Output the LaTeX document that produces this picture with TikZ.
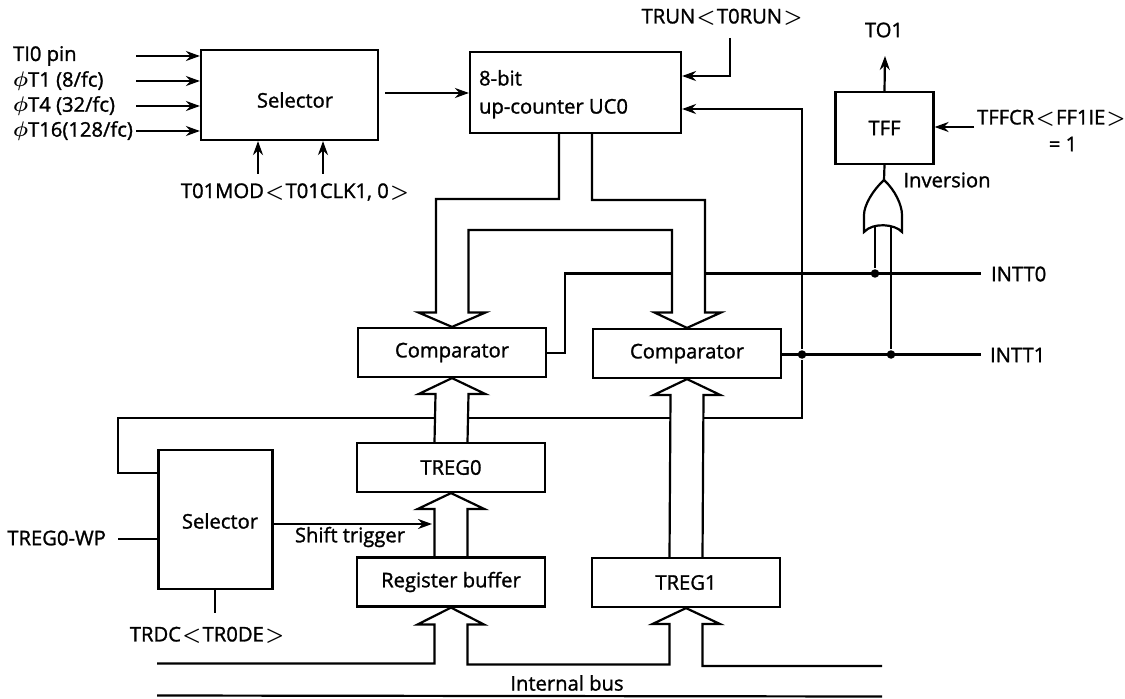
\documentclass[tikz,border=0pt]{standalone}
\usepackage{fontspec}
\setmainfont{Open Sans}[UprightFeatures={FakeBold=1.3}]
\usetikzlibrary{arrows.meta,positioning,calc}
% one unit is one pixel of the reference, y runs downwards
\newcommand{\busup}[2]{\draw[bus] ($(#1.north)+(-16.5,0)$) -- ($(#2.south)+(-16.5,16)$) -- ++(-17,0) -- (#2.south) -- ++(33.5,16) -- ++(-17,0) -- ($(#1.north)+(16.5,0)$);}
\newcommand{\angl}{\kern0.8pt{\boldmath$<$}\kern0.8pt}
\newcommand{\angr}{\kern0.8pt{\boldmath$>$}}

\begin{document}
\begin{tikzpicture}[x=0.02cm,y=-0.02cm,>={Stealth[length=2.8mm,width=2mm]},font=\fontsize{11.5}{13}\selectfont,line width=1.25pt,
 box/.style={draw,rectangle,inner sep=0pt},
 cmp/.style={box,minimum width=3.76cm,minimum height=0.98cm},
 bus/.style={line join=miter},
 dot/.style={circle,fill,inner sep=0pt,minimum size=0.17cm},
 lbl/.style={inner sep=0pt}]
\useasboundingbox (0,0) rectangle (1125,699);
% boxes
\node[box,minimum width=3.54cm,minimum height=1.8cm] (sel) at (289.5,95) {};
\node[lbl] at (295,100) {Selector};
\node[box,minimum width=4.22cm,minimum height=1.62cm] (uc) at (575.5,92.5) {};
\node[lbl,align=left,anchor=north west,font=\fontsize{11.5}{16}\selectfont] at (478,69) {8-bit\\[0pt]up-counter UC0};
\node[box,minimum width=1.96cm,minimum height=1.44cm] (tff) at (884.5,128) {TFF};
\node[cmp] (cmp0) at (452,352.5) {Comparator};
\node[cmp] (cmp1) at (687,353.5) {Comparator};
\node[cmp] (treg0) at (451,467.5) {TREG0};
\node[cmp] (rbuf) at (451,582) {Register buffer};
\node[cmp] (treg1) at (686,582.5) {TREG1};
\node[box,minimum width=2.28cm,minimum height=2.78cm] (sel2) at (215.5,519.5) {};
\node[lbl] at (220,521) {Selector};
% input labels
\node[lbl,anchor=west] (ti0) at (12,56) {TI0 pin};
\node[lbl,anchor=west] (t1) at (12,81) {{\boldmath$\phi$}T1 (8/fc)};
\node[lbl,anchor=west] (t4) at (12,106) {{\boldmath$\phi$}T4 (32/fc)};
\node[lbl,anchor=west] (t16) at (12,131) {{\boldmath$\phi$}T16(128/fc)};
\coordinate (i0) at (136,56); \coordinate (i1) at (136,81); \coordinate (i2) at (136,106); \coordinate (i3) at (136,131);
\draw[->] (i0) -- (i0 -| sel.west);
\draw[->] (i1) -- (i1 -| sel.west);
\draw[->] (i2) -- (i2 -| sel.west);
\draw[->] (i3) -- (i3 -| sel.west);
\node[lbl] (mod) at (295,192) {T01MOD\angl T01CLK1, 0\angr};
\coordinate (m0) at (258,174); \coordinate (m1) at (323,174);
\draw[->] (m0) -- (m0 |- sel.south);
\draw[->] (m1) -- (m1 |- sel.south);
\draw[->] (sel.east |- 0,93) ++(6,0) -- (uc.west |- 0,93);
% run control
\node[lbl] (run) at (722,17) {TRUN\angl T0RUN\angr};
\coordinate (r0) at (730,38);
\draw[->] (r0) |- (uc.east |- 0,76);
% output flip-flop
\node[lbl] (to1) at (884,30) {TO1};
\coordinate (t0) at (885,56);
\draw[->] (tff.north) -- (t0);
\node[lbl,anchor=west] (ffcr) at (976,118) {TFFCR\angl FF1IE\angr};
\node[lbl] (one) at (1063,144) {= 1};
\coordinate (f0) at (974,127);
\draw[->] (f0) -- (tff.east |- f0);
\node[lbl] (inv) at (947,180) {Inversion};
% or gate
\coordinate (gt) at (884,180);
\draw (tff.south) -- (gt);
\draw[line join=miter] (gt) .. controls (895,190) and (902,205) .. (902,215) -- (902,232)
 .. controls (895,224) and (873,222) .. (864,232) -- (864,215) .. controls (864,205) and (873,190) .. (gt) -- cycle;
% interrupts
\node[lbl,anchor=west] (int0) at (990,274) {INTT0};
\node[lbl,anchor=west] (int1) at (989,355) {INTT1};
\node[dot] (j0) at (875,273.5) {};
\node[dot] (j1) at (802,354.5) {};
\node[dot] (j2) at (891,354.5) {};
\coordinate (e0) at (981,273.5); \coordinate (e1) at (981,354.5);
\coordinate (g0) at (875,226); \coordinate (g1) at (891,226);
\draw (j0) -- (g0);
\draw (g1) -- (j2);
\draw (cmp1.east |- j1) -- (e1);
\draw (cmp0.east |- 0,353) -| (565,273.5) -- (672,273.5);
\draw (705,273.5) -- (e0);
% feedback
\draw[->] (j1) |- (uc.east |- 0,109);
\draw (j1) -- (802,418) -- (704,418);
\draw (671,418) -- (469,418);
\draw (435,418) -- (118,418) |- (sel2.west |- 0,473);
% buses
\draw[bus] ($(uc.south)+(-16.5,0)$) |- (436,199) |- (418.5,312.5) -- (cmp0.north) -- (485.5,312.5) -- (468.5,312.5) |- (672,230) |- (654.5,312.5) -- (cmp1.north) -- (721,312.5) -- (705,312.5) |- ($(uc.south)+(16.5,199-133)$) -- ($(uc.south)+(16.5,0)$);
\busup{treg0}{cmp0}
\busup{rbuf}{treg0}
\busup{treg1}{cmp1}
\coordinate (b0) at (157,663.5); \coordinate (b1) at (882,666); \coordinate (b2) at (157,695.5); \coordinate (b3) at (882,696.5);
\draw[bus] (b0) -| (434.5,624.5) -- (417.5,624.5) -- (rbuf.south) -- (484,624.5) -- (467.5,624.5) |- (669.5,664.5) |- (652.5,624) -- (treg1.south) -- (720,624) -- (702.5,624) |- (b1);
\draw (b2) -- (b3);
\node[lbl] (ibus) at (567,683) {Internal bus};
% lower selector
\node[lbl,anchor=east] (wp) at (107,538) {TREG0-WP};
\coordinate (w0) at (118,539);
\draw (w0) -- (sel2.west |- w0);
\draw[->] (sel2.east |- 0,524) -- (432,524);
\node[lbl] (shift) at (350,537) {Shift trigger};
\coordinate (d0) at (215,613);
\draw (sel2.south -| d0) -- (d0);
\node[lbl] (trdc) at (207,635) {TRDC\angl TR0DE\angr};
\end{tikzpicture}
\end{document}
